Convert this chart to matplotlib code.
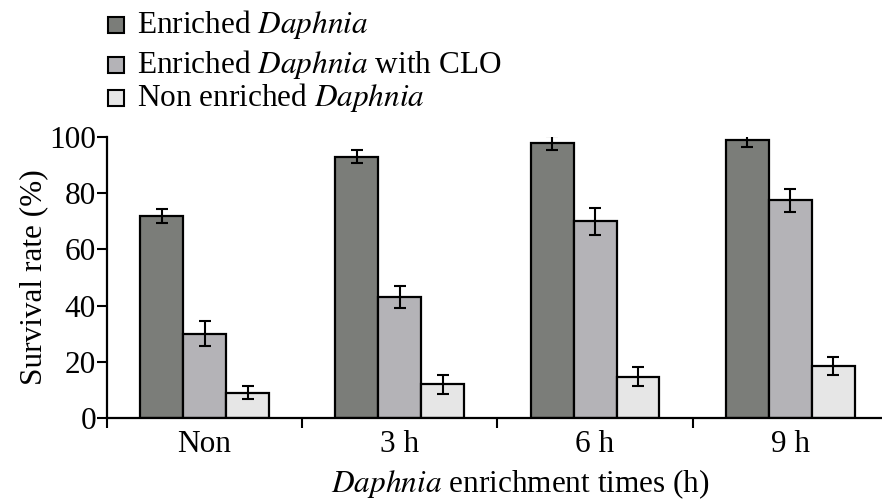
import numpy as np
import matplotlib
matplotlib.use("Agg")
import matplotlib.pyplot as plt
from matplotlib.patches import Rectangle

plt.rcParams['font.family'] = ['Liberation Serif', 'DejaVu Serif']
plt.rcParams['mathtext.fontset'] = 'stix'

categories = ['Non', '3 h', '6 h', '9 h']
series_names = ['Enriched $\\mathit{Daphnia}$',
                'Enriched $\\mathit{Daphnia}$ with CLO',
                'Non enriched $\\mathit{Daphnia}$']
enriched = [72, 93, 98, 99]
enriched_err = [2.5, 2.4, 2.5, 2.4]
enriched_clo = [30, 43, 70, 77.5]
enriched_clo_err = [4.5, 4.0, 4.7, 4.1]
non_enriched = [9, 12, 14.7, 18.5]
non_enriched_err = [2.4, 3.3, 3.3, 3.1]
colors = ['#7b7d79', '#b4b3b7', '#e6e6e6']

FS = 22.5

fig = plt.figure(figsize=(8.82, 5.03), dpi=100)
ax = fig.add_axes([0.1213, 0.169, 0.8787, 0.5586])

x = np.arange(len(categories))
w = 0.22
values = [enriched, enriched_clo, non_enriched]
errors = [enriched_err, enriched_clo_err, non_enriched_err]
for i, (vals, errs) in enumerate(zip(values, errors)):
    ax.bar(x + (i - 1) * w, vals, w, color=colors[i], edgecolor='black',
           linewidth=1.6, zorder=2)
    ax.errorbar(x + (i - 1) * w, vals, yerr=errs, fmt='none', ecolor='black',
                elinewidth=1.5, capsize=4.5, capthick=1.5, zorder=3)

ax.set_xlim(-0.5, 3.47)
ax.set_ylim(0, 100)
ax.set_yticks([0, 20, 40, 60, 80, 100])
ax.set_xticks(x)
ax.set_xticklabels(categories)
ax.set_xticks(np.arange(-0.5, 3.0, 1.0), minor=True)
ax.tick_params(axis='x', which='major', length=0, pad=9, labelsize=FS)
ax.tick_params(axis='x', which='minor', length=7, width=1.5, direction='out')
ax.tick_params(axis='y', length=7, width=1.5, labelsize=FS, pad=1)
for s in ['top', 'right']:
    ax.spines[s].set_visible(False)
for s in ['left', 'bottom']:
    ax.spines[s].set_linewidth(1.6)

ax.set_ylabel('Survival rate (%)', fontsize=FS, va='center')
ax.yaxis.set_label_coords(-0.094, 0.5)
ax.set_xlabel('$\\mathit{Daphnia}$ enrichment times (h)', fontsize=FS, va='baseline')
ax.xaxis.set_label_coords(0.533, -0.263)

# legend drawn by hand (rows are unevenly spaced in the original)
rows_base = [33, 73, 106]
for name, c, yb in zip(series_names, colors, rows_base):
    fig.patches.append(Rectangle((108 / 882, 1 - yb / 503), 16 / 882, 16 / 503,
                                 transform=fig.transFigure, facecolor=c,
                                 edgecolor='black', linewidth=1.5))
    fig.text(137 / 882, 1 - yb / 503, name, fontsize=FS, va='baseline', ha='left')

fig.savefig('out.png', dpi=100)
